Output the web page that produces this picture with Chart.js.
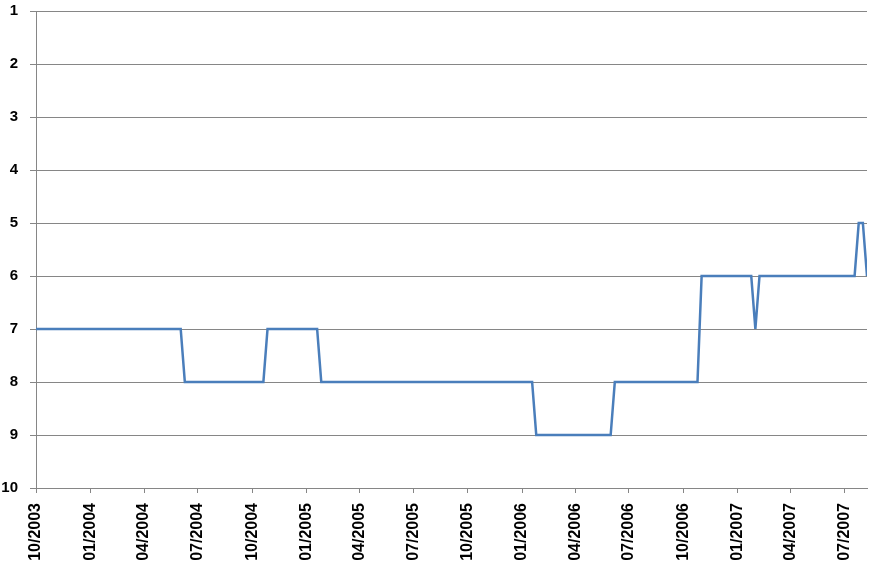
<!DOCTYPE html>
<html>
<head>
<meta charset="utf-8">
<script src="https://cdn.jsdelivr.net/npm/chart.js@4/dist/chart.umd.min.js"></script>
<style>
  html, body { margin: 0; padding: 0; background: #fff; }
  #wrap { width: 874px; height: 572px; }
</style>
</head>
<body>
<div id="wrap"><canvas id="rankChart" width="874" height="572"></canvas></div>
<script>
// Data: vertices of the rank line (weekly samples, only where it changes)
const dates = [
  "2003-10-01", "2004-06-02", "2004-06-09", "2004-10-20", "2004-10-27",
  "2005-01-19", "2005-01-26", "2006-01-18", "2006-01-25", "2006-05-31",
  "2006-06-07", "2006-10-25", "2006-11-01", "2007-01-24", "2007-01-31",
  "2007-02-07", "2007-07-18", "2007-07-25", "2007-08-01", "2007-08-08"
];
const ranks = [
  7, 7, 8, 8, 7,
  7, 8, 8, 9, 9,
  8, 8, 6, 6, 7,
  6, 6, 5, 5, 6
];
const xTickLabels = [
  "10/2003", "01/2004", "04/2004", "07/2004", "10/2004", "01/2005",
  "04/2005", "07/2005", "10/2005", "01/2006", "04/2006", "07/2006",
  "10/2006", "01/2007", "04/2007", "07/2007"
];
const yTicks = [1, 2, 3, 4, 5, 6, 7, 8, 9, 10];

// Helpers: dates -> day numbers
function dayNum(str) {
  const p = str.split("-").map(Number);
  return Date.UTC(p[0], p[1] - 1, p[2]) / 86400000;
}
function labelDay(lbl) {
  const p = lbl.split("/").map(Number);
  return Date.UTC(p[1], p[0] - 1, 1) / 86400000;
}

const points = dates.map((d, i) => ({ x: dayNum(d), y: ranks[i] }));
const gridColor = "#868686";

const ctx = document.getElementById("rankChart").getContext("2d");
new Chart(ctx, {
  type: "line",
  data: {
    datasets: [{
      data: points,
      borderColor: "#4a7ebb",
      borderWidth: 2.5,
      pointRadius: 0,
      tension: 0,
      fill: false
    }]
  },
  options: {
    responsive: false,
    animation: false,
    devicePixelRatio: 1,
    layout: { padding: { top: 11, right: 7, left: 0, bottom: 0 } },
    plugins: { legend: { display: false }, tooltip: { enabled: false } },
    scales: {
      x: {
        type: "linear",
        min: dayNum(dates[0]),
        max: dayNum(dates[dates.length - 1]),
        afterBuildTicks: axis => {
          axis.ticks = xTickLabels.map(l => ({ value: labelDay(l) }));
        },
        afterFit: axis => {
          axis.height = 84;
          axis.paddingLeft = 0;
          axis.paddingRight = 0;
        },
        grid: { drawOnChartArea: false, drawTicks: true, tickLength: 5, color: gridColor },
        border: { color: gridColor },
        ticks: {
          autoSkip: false,
          minRotation: 90,
          maxRotation: 90,
          padding: 10,
          color: "#000",
          font: { family: "Liberation Sans", weight: "bold", size: 16 },
          callback: (v, i) => xTickLabels[i]
        }
      },
      y: {
        reverse: true,
        min: 1,
        max: 10,
        afterBuildTicks: axis => {
          axis.ticks = yTicks.map(v => ({ value: v }));
        },
        afterFit: axis => {
          axis.width = 36;
          axis.paddingTop = 0;
          axis.paddingBottom = 0;
        },
        grid: { color: gridColor, tickLength: 6 },
        border: { color: gridColor },
        ticks: {
          padding: 12,
          color: "#000",
          font: { family: "Liberation Sans", weight: "bold", size: 15 }
        }
      }
    }
  }
});
</script>
</body>
</html>
